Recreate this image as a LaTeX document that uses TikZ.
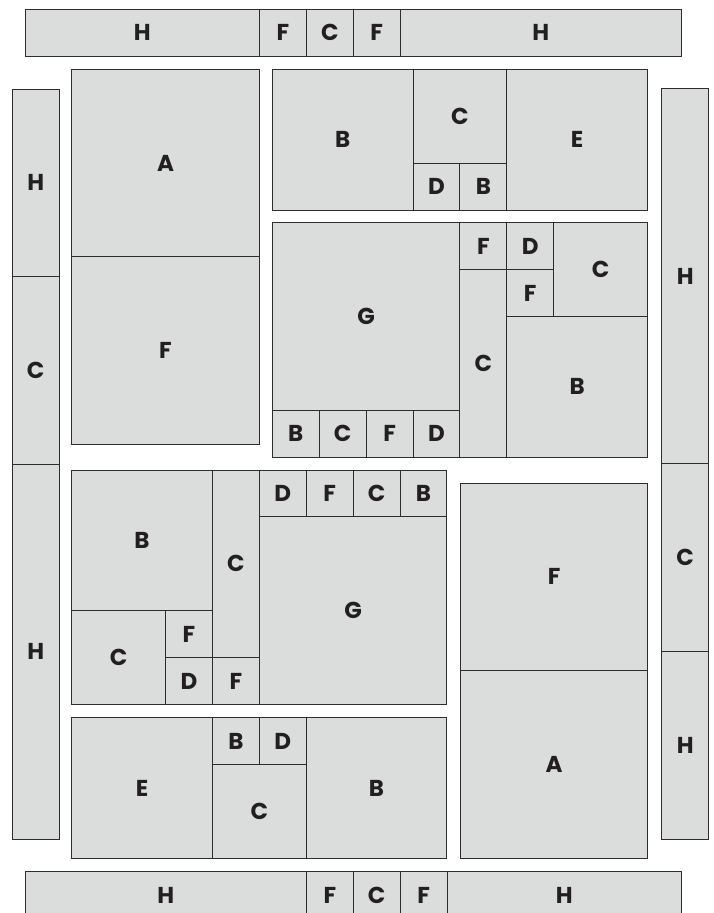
\documentclass[tikz,border=0pt]{standalone}
\usepackage{fontspec}
\usepackage{tikz}
\usetikzlibrary{positioning}
\newfontfamily\tilefont{Poppins}
\definecolor{panel}{RGB}{218,221,220}
\definecolor{edge}{RGB}{45,45,45}
\definecolor{ink}{RGB}{35,31,32}
\tikzset{
  tile/.style={rectangle, draw=edge, fill=panel, line width=0.9pt, inner sep=0pt,
               outer sep=0pt, anchor=north west, text=ink,
               font=\tilefont\bfseries\fontsize{23}{23}\selectfont},
  sz/.style 2 args={minimum width=#1*46.9pt, minimum height=#2*46.9pt},
  block/.style={shift={(#1)}, x=46.9pt, y=-46.9pt}}

\begin{document}
\begin{tikzpicture}[x=1pt, y=-1pt]

  \useasboundingbox (0,0) rectangle (713,913);
  \clip (0,0) rectangle (713,913);

  % top strip
  \node[tile, sz={5}{1}] (topH1) at (25,9.3) {H};
  \node[tile, sz={1}{1}, right=0pt of topH1] (topF1) {F};
  \node[tile, sz={1}{1}, right=0pt of topF1] (topC) {C};
  \node[tile, sz={1}{1}, right=0pt of topC] (topF2) {F};
  \node[tile, sz={6}{1}, right=0pt of topF2] (topH2) {H};

  % bottom strip
  \node[tile, sz={6}{1}] (botH1) at (25,871.7) {H};
  \node[tile, sz={1}{1}, right=0pt of botH1] (botF1) {F};
  \node[tile, sz={1}{1}, right=0pt of botF1] (botC) {C};
  \node[tile, sz={1}{1}, right=0pt of botC] (botF2) {F};
  \node[tile, sz={5}{1}, right=0pt of botF2] (botH2) {H};

  % left column
  \node[tile, sz={1}{4}] (leftH1) at (12.3,89) {H};
  \node[tile, sz={1}{4}, below=0pt of leftH1] (leftC) {C};
  \node[tile, sz={1}{8}, below=0pt of leftC] (leftH2) {H};

  % right column
  \node[tile, sz={1}{8}] (rightH1) at (661.7,88.7) {H};
  \node[tile, sz={1}{4}, below=0pt of rightH1] (rightC) {C};
  \node[tile, sz={1}{4}, below=0pt of rightC] (rightH2) {H};

  % block A / F
  \begin{scope}[block={71.7,69.3}]
    \node[tile, sz={4}{4}] (afA) at (0,0) {A};
    \node[tile, sz={4}{4}] (afF) at (0,4) {F};
  \end{scope}

  % block B C E
  \begin{scope}[block={272.3,69.3}]
    \node[tile, sz={3}{3}] (bceB1) at (0,0) {B};
    \node[tile, sz={2}{2}] (bceC) at (3,0) {C};
    \node[tile, sz={1}{1}] (bceD) at (3,2) {D};
    \node[tile, sz={1}{1}] (bceB2) at (4,2) {B};
    \node[tile, sz={3}{3}] (bceE) at (5,0) {E};
  \end{scope}

  % block G upper
  \begin{scope}[block={272.3,222.7}]
    \node[tile, sz={4}{4}] (guG) at (0,0) {G};
    \node[tile, sz={1}{1}] (guB1) at (0,4) {B};
    \node[tile, sz={1}{1}] (guC1) at (1,4) {C};
    \node[tile, sz={1}{1}] (guF1) at (2,4) {F};
    \node[tile, sz={1}{1}] (guD1) at (3,4) {D};
    \node[tile, sz={1}{1}] (guF2) at (4,0) {F};
    \node[tile, sz={1}{4}] (guC2) at (4,1) {C};
    \node[tile, sz={1}{1}] (guD2) at (5,0) {D};
    \node[tile, sz={1}{1}] (guF3) at (5,1) {F};
    \node[tile, sz={2}{2}] (guC3) at (6,0) {C};
    \node[tile, sz={3}{3}] (guB2) at (5,2) {B};
  \end{scope}

  % block G lower
  \begin{scope}[block={71.7,470}]
    \node[tile, sz={3}{3}] (glB1) at (0,0) {B};
    \node[tile, sz={2}{2}] (glC1) at (0,3) {C};
    \node[tile, sz={1}{1}] (glF1) at (2,3) {F};
    \node[tile, sz={1}{1}] (glD1) at (2,4) {D};
    \node[tile, sz={1}{4}] (glC2) at (3,0) {C};
    \node[tile, sz={1}{1}] (glF2) at (3,4) {F};
    \node[tile, sz={1}{1}] (glD2) at (4,0) {D};
    \node[tile, sz={1}{1}] (glF3) at (5,0) {F};
    \node[tile, sz={1}{1}] (glC3) at (6,0) {C};
    \node[tile, sz={1}{1}] (glB2) at (7,0) {B};
    \node[tile, sz={4}{4}] (glG) at (4,1) {G};
  \end{scope}

  % block E C B
  \begin{scope}[block={71.7,717.7}]
    \node[tile, sz={3}{3}] (ecbE) at (0,0) {E};
    \node[tile, sz={1}{1}] (ecbB1) at (3,0) {B};
    \node[tile, sz={1}{1}] (ecbD) at (4,0) {D};
    \node[tile, sz={2}{2}] (ecbC) at (3,1) {C};
    \node[tile, sz={3}{3}] (ecbB2) at (5,0) {B};
  \end{scope}

  % block F / A
  \begin{scope}[block={460.3,483}]
    \node[tile, sz={4}{4}] (faF) at (0,0) {F};
    \node[tile, sz={4}{4}] (faA) at (0,4) {A};
  \end{scope}
\end{tikzpicture}
\end{document}
